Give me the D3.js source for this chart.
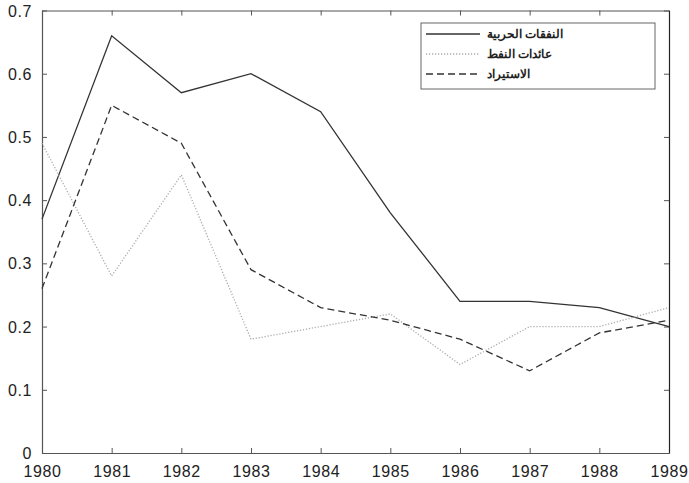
<!DOCTYPE html>
<html>
<head>
<meta charset="utf-8">
<script src="https://cdn.jsdelivr.net/npm/d3@7"></script>
<style>
  html, body { margin: 0; padding: 0; background: #fff; }
  svg { display: block; }
</style>
</head>
<body>
<svg id="chart" width="689" height="483"></svg>
<script>
// Years on the horizontal axis
const years = [1980, 1981, 1982, 1983, 1984, 1985, 1986, 1987, 1988, 1989];
// Military spending
const militarySpending = [0.37, 0.66, 0.57, 0.60, 0.54, 0.38, 0.24, 0.24, 0.23, 0.20];
// Oil revenues
const oilRevenue = [0.49, 0.28, 0.44, 0.18, 0.20, 0.22, 0.14, 0.20, 0.20, 0.23];
// Imports
const imports = [0.26, 0.55, 0.49, 0.29, 0.23, 0.21, 0.18, 0.13, 0.19, 0.21];
// Vertical axis ticks
const yTicks = [0, 0.1, 0.2, 0.3, 0.4, 0.5, 0.6, 0.7];
// Legend labels
const seriesNames = ["النفقات الحربية", "عائدات النفط", "الاستيراد"];

const svg = d3.select("#chart");
const plot = { left: 42, right: 669, top: 10.5, bottom: 453 };

const x = d3.scaleLinear().domain([1980, 1989]).range([plot.left, plot.right]);
const y = d3.scaleLinear().domain([0, 0.7]).range([plot.bottom, plot.top]);

const axisColor = "#555";
const fontFamily = "'Liberation Sans', Arial, sans-serif";

// Axes with inward ticks
const gx = svg.append("g").attr("transform", `translate(0,${plot.bottom})`)
  .call(d3.axisBottom(x).tickValues(years).tickFormat(d3.format("d")).tickSizeInner(-5).tickSizeOuter(0).tickPadding(12.5));
const gy = svg.append("g").attr("transform", `translate(${plot.left},0)`)
  .call(d3.axisLeft(y).tickValues(yTicks).tickFormat(d => d === 0 ? "0" : d3.format(".1f")(d)).tickSizeInner(-5).tickSizeOuter(0).tickPadding(10));
const gt = svg.append("g").attr("transform", `translate(0,${plot.top})`)
  .call(d3.axisTop(x).tickValues(years).tickFormat("").tickSizeInner(-5).tickSizeOuter(0));
const gr = svg.append("g").attr("transform", `translate(${plot.right},0)`)
  .call(d3.axisRight(y).tickValues(yTicks).tickFormat("").tickSizeInner(-5).tickSizeOuter(0));

[gx, gy, gt, gr].forEach(g => {
  g.select(".domain").attr("stroke", axisColor).attr("stroke-width", 1.2);
  g.selectAll(".tick line").attr("stroke", axisColor);
  g.selectAll(".tick text").attr("fill", "#222")
    .style("font-family", fontFamily).style("font-size", "16px").style("letter-spacing", "0.6px");
});
gr.select(".domain").attr("stroke", "#222");
gy.selectAll(".tick text").attr("dy", "0.35em");

// Series lines
const series = [
  { values: militarySpending, stroke: "#333", width: 1.3, dash: null },
  { values: oilRevenue, stroke: "#aaa", width: 1.3, dash: "1.2,1.8" },
  { values: imports, stroke: "#333", width: 1.3, dash: "7,4" }
];

const line = d3.line().x((d, i) => x(years[i])).y(d => y(d));

series.forEach(s => {
  svg.append("path")
    .datum(s.values)
    .attr("fill", "none")
    .attr("stroke", s.stroke)
    .attr("stroke-width", s.width)
    .attr("stroke-dasharray", s.dash)
    .attr("d", line);
});

// Legend
const lg = svg.append("g");
lg.append("rect").attr("x", 421).attr("y", 23).attr("width", 234).attr("height", 66)
  .attr("fill", "#fff").attr("stroke", "#666").attr("stroke-width", 1);
series.forEach((s, i) => {
  const yy = 34 + i * 20;
  lg.append("line").attr("x1", 426).attr("x2", 480).attr("y1", yy).attr("y2", yy)
    .attr("stroke", s.stroke).attr("stroke-width", s.width).attr("stroke-dasharray", s.dash);
  lg.append("text").attr("x", 487).attr("y", yy).attr("dy", "0.35em")
    .attr("text-anchor", "start")
    .style("font-family", fontFamily).style("font-size", "12px").style("font-weight", "bold")
    .attr("fill", "#222")
    .text(seriesNames[i]);
});
</script>
</body>
</html>
